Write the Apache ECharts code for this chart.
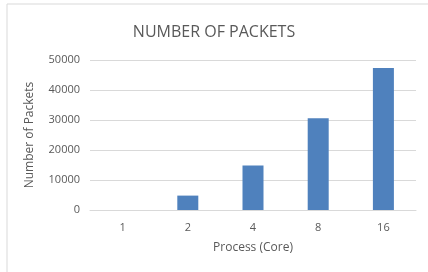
<!DOCTYPE html>
<html>
<head>
<meta charset="utf-8">
<script src="https://cdn.jsdelivr.net/npm/echarts@6/dist/echarts.min.js"></script>
<style>
  html, body { margin: 0; padding: 0; background: #fff; }
  #chart { width: 428px; height: 272px; }
</style>
</head>
<body>
<div id="chart"></div>
<script>
// data
var cores = ['1', '2', '4', '8', '16'];
var packets = [0, 4800, 14800, 30600, 47300];
var yTicks = [0, 10000, 20000, 30000, 40000, 50000];

var myChart = echarts.init(document.getElementById('chart'));
var textColor = '#595959';
var font = 'Open Sans';

var option = {
    backgroundColor: '#fff',
    animation: false,
    graphic: [{
        type: 'rect',
        shape: { x: 7, y: 4, width: 440, height: 290 },
        style: { fill: 'none', stroke: '#d9d9d9', lineWidth: 1 },
        silent: true
    }],
    title: {
        text: 'NUMBER OF PACKETS',
        left: 'center',
        top: 19,
        textStyle: { color: textColor, fontSize: 16, fontWeight: 'normal', fontFamily: font }
    },
    grid: { left: 90, right: 12, top: 60, bottom: 62 },
    xAxis: {
        type: 'category',
        data: cores,
        name: 'Process (Core)',
        nameLocation: 'middle',
        nameGap: 32,
        nameTextStyle: { color: textColor, fontSize: 12, fontFamily: font },
        axisLine: { lineStyle: { color: '#d9d9d9' } },
        axisTick: { show: false },
        axisLabel: { color: textColor, fontSize: 11, fontFamily: font, margin: 12 }
    },
    yAxis: {
        type: 'value',
        min: yTicks[0],
        max: yTicks[yTicks.length - 1],
        interval: yTicks[1] - yTicks[0],
        name: 'Number of Packets',
        nameLocation: 'middle',
        nameGap: 54,
        nameTextStyle: { color: textColor, fontSize: 12, fontFamily: font },
        axisLine: { show: false },
        axisTick: { show: false },
        axisLabel: {
            color: textColor, fontSize: 11, fontFamily: font, margin: 10,
            formatter: function (v) { return String(v); }
        },
        splitLine: { lineStyle: { color: '#d9d9d9' } }
    },
    series: [{
        type: 'bar',
        data: packets,
        barWidth: 21,
        itemStyle: { color: '#4f81bd' }
    }]
};
option && myChart.setOption(option);
</script>
</body>
</html>
